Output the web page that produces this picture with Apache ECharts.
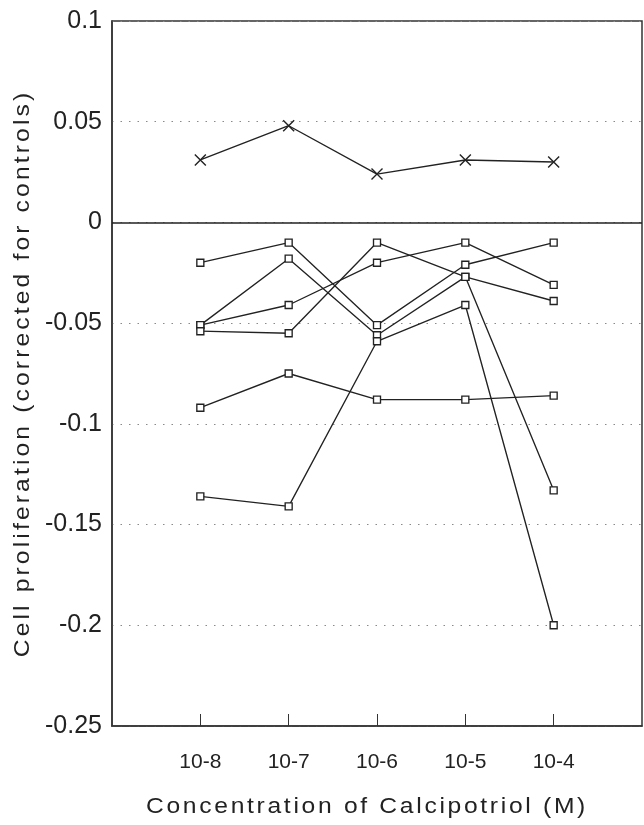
<!DOCTYPE html>
<html>
<head>
<meta charset="utf-8">
<script src="https://cdn.jsdelivr.net/npm/echarts@6/dist/echarts.min.js"></script>
<style>
  html, body { margin: 0; padding: 0; background: #fff; }
  #chart { width: 644px; height: 825px; }
</style>
</head>
<body>
<div id="chart"></div>
<script>
// Categories (x positions 1..5 on the axis) and their tick labels
const xTickLabels = ['10-8', '10-7', '10-6', '10-5', '10-4'];
const xPositions = [1, 2, 3, 4, 5];

// Series values (cell proliferation corrected for controls)
const seriesCross = [0.031, 0.048, 0.024, 0.031, 0.030];
const seriesA = [-0.020, -0.010, -0.051, -0.021, -0.010];
const seriesB = [-0.051, -0.018, -0.056, -0.027, -0.133];
const seriesC = [-0.051, -0.041, -0.020, -0.010, -0.031];
const seriesD = [-0.054, -0.055, -0.010, -0.027, -0.039];
const seriesE = [-0.092, -0.075, -0.088, -0.088, -0.086];
const seriesF = [-0.136, -0.141, -0.059, -0.041, -0.200];

const yTickValues = [0.1, 0.05, 0, -0.05, -0.1, -0.15, -0.2, -0.25];

const xTitle = 'Concentration of Calcipotriol (M)';
const yTitle = 'Cell proliferation (corrected for controls)';

const squareSeries = [seriesA, seriesB, seriesC, seriesD, seriesE, seriesF];

const FONT = '"Liberation Sans", Arial, Helvetica, sans-serif';
const INK = '#222222';

// The two axis titles in the scanned figure are set in a wide face:
// draw them slightly widened and letter-spaced.
const titleStyle = {};
titleStyle[xTitle] = { spacing: '2.4px', scaleX: 1.12 };
titleStyle[yTitle] = { spacing: '2.8px', scaleX: 1.12 };
(function () {
  const proto = CanvasRenderingContext2D.prototype;
  const origFillText = proto.fillText;
  proto.fillText = function (t, x, y, m) {
    const st = titleStyle[t];
    if (st) {
      this.save();
      if ('letterSpacing' in this) this.letterSpacing = st.spacing;
      this.translate(x, y);
      this.scale(st.scaleX, 1);
      origFillText.call(this, t, 0, 0);
      this.restore();
      return;
    }
    if ('letterSpacing' in this) this.letterSpacing = '0px';
    return m === undefined ? origFillText.call(this, t, x, y) : origFillText.call(this, t, x, y, m);
  };
})();

function pairs(vals) { return vals.map((v, i) => [xPositions[i], v]); }

const series = squareSeries.map(vals => ({
  type: 'line',
  data: pairs(vals),
  symbol: 'rect',
  symbolSize: 7,
  showAllSymbol: true,
  lineStyle: { color: INK, width: 1.35 },
  itemStyle: { color: '#fff', borderColor: INK, borderWidth: 1.35 },
  emphasis: { disabled: true },
  silent: true,
  z: 3
}));

series.push({
  type: 'line',
  data: pairs(seriesCross),
  symbol: 'path://M0,0L10,10M10,0L0,10',
  symbolSize: 11,
  lineStyle: { color: INK, width: 1.35 },
  itemStyle: { color: 'transparent', borderColor: INK, borderWidth: 1.4 },
  emphasis: { disabled: true },
  silent: true,
  z: 3,
  markLine: {
    silent: true,
    symbol: 'none',
    label: { show: false },
    lineStyle: { color: INK, width: 1.5, type: 'solid' },
    data: [{ yAxis: 0 }],
    animation: false
  }
});

const chart = echarts.init(document.getElementById('chart'));
chart.setOption({
  animation: false,
  backgroundColor: '#fff',
  grid: {
    left: 112, right: 2, top: 21, bottom: 99,
    show: true, borderColor: '#333333', borderWidth: 1.5,
    containLabel: false
  },
  xAxis: {
    type: 'value',
    min: 0, max: 6, interval: 1,
    axisLine: { show: true, onZero: false, lineStyle: { color: '#333333', width: 1.5 } },
    axisTick: { show: true, inside: true, length: 12, customValues: xPositions, lineStyle: { color: '#333333', width: 1 } },
    axisLabel: {
      customValues: xPositions,
      formatter: v => xTickLabels[Math.round(v) - 1] || '',
      fontFamily: FONT, fontSize: 21, color: INK, margin: 26
    },
    splitLine: { show: false },
    name: xTitle,
    nameLocation: 'middle',
    nameGap: 70,
    nameTextStyle: { fontFamily: FONT, fontSize: 22, color: INK, padding: [0, 20, 0, 0] }
  },
  yAxis: {
    type: 'value',
    min: -0.25, max: 0.1, interval: 0.05,
    axisLine: { show: true, lineStyle: { color: '#333333', width: 1.5 } },
    axisTick: { show: false },
    axisLabel: {
      fontFamily: FONT, fontSize: 25, color: INK, margin: 10,
      formatter: v => {
        const r = Math.round(v * 100) / 100;
        const match = yTickValues.find(t => Math.abs(t - r) < 1e-9);
        return match === undefined ? '' : String(match);
      }
    },
    splitLine: { show: true, lineStyle: { color: '#8a8a8a', width: 1.2, type: [1.5, 7] } },
    name: yTitle,
    nameLocation: 'middle',
    nameGap: 74,
    nameTextStyle: { fontFamily: FONT, fontSize: 22, color: INK }
  },
  series: series
});
</script>
</body>
</html>
